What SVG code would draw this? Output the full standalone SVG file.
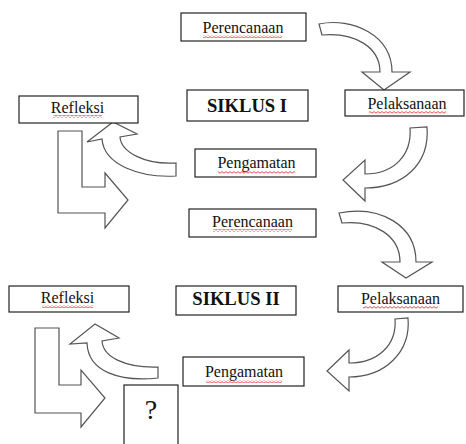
<svg xmlns="http://www.w3.org/2000/svg" width="466" height="444" viewBox="0 0 466 444">
<defs>
<pattern id="wavy" width="4" height="3" patternUnits="userSpaceOnUse">
<path d="M0,2.2 L2,0.6 L4,2.2" fill="none" stroke="#e02020" stroke-width="0.8"/>
</pattern>
<style>
.box{fill:#fff;stroke:#222;stroke-width:1.2}
.t{font-family:"Liberation Serif","Times New Roman",serif;font-size:16px;fill:#111;text-anchor:middle}
.b{font-weight:bold;font-size:18.6px}
.arr{fill:#fff;stroke:#555;stroke-width:1.2;stroke-linejoin:miter}
.w{fill:url(#wavy)}
</style>
</defs>
<rect width="466" height="444" fill="#fff"/>
<g id="connectors">
<path class="arr" d="M319,24 C352,17 392,35 392,72 L410,72 L384,90 L362,72 L380,72 C380,48 356,32 322,35 Z"/>
<path class="arr" d="M427,127 C430,165 402,188 365,188 L365,201 L343,180 L365,160 L365,174 C394,174 412,155 410,128 Z"/>
<path class="arr" d="M176,176 C140,178 104,165 102,139 L87,142 L113,122 L137,134 L120,137 C121,152 145,165 176,163 Z"/>
<path class="arr" d="M58,131 L82,131 L82,187 L105,187 L105,173 L128,200 L105,228 L105,213 L58,213 Z"/>
<path class="arr" d="M339,213 C380,205 416,225 416,262 L432,262 L406,278 L382,262 L400,262 C400,236 375,220 342,223 Z"/>
<path class="arr" d="M408,318 C411,352 385,377 349,377 L349,391 L327,371 L349,350 L349,363 C378,363 397,345 395,319 Z"/>
<path class="arr" d="M158,378 C120,382 88,372 87,343 L70,344 L95,324 L119,338 L102,341 C103,357 125,368 158,367 Z"/>
<path class="arr" d="M35,328 L59,328 L59,385 L81,385 L81,370 L105,398 L81,427 L81,413 L35,413 Z"/>
</g>
<g id="perencanaan1">
<rect class="box" x="181" y="13" width="125" height="28"/>
<text class="t" x="243" y="33">Perencanaan</text>
<rect class="w" x="203" y="35" width="79" height="3"/>
</g>
<g id="siklus1">
<rect class="box" x="187" y="90" width="121" height="31"/>
<text class="t b" x="247" y="112">SIKLUS I</text>
</g>
<g id="pelaksanaan1">
<rect class="box" x="345" y="90" width="119" height="26"/>
<text class="t" x="407" y="109">Pelaksanaan</text>
<rect class="w" x="369" y="111" width="77" height="3"/>
</g>
<g id="refleksi1">
<rect class="box" x="19" y="96" width="119" height="27"/>
<text class="t" x="77.5" y="113">Refleksi</text>
<rect class="w" x="53" y="115" width="49" height="3"/>
</g>
<g id="pengamatan1">
<rect class="box" x="195" y="149" width="121" height="28"/>
<text class="t" x="256.5" y="168">Pengamatan</text>
<rect class="w" x="218" y="171" width="77" height="3"/>
</g>
<g id="perencanaan2">
<rect class="box" x="189" y="209" width="127" height="28"/>
<text class="t" x="252.5" y="227">Perencanaan</text>
<rect class="w" x="213" y="229" width="79" height="3"/>
</g>
<g id="refleksi2">
<rect class="box" x="9" y="286" width="120" height="26"/>
<text class="t" x="67.5" y="303">Refleksi</text>
<rect class="w" x="42" y="305" width="51" height="3"/>
</g>
<g id="siklus2">
<rect class="box" x="176" y="286" width="120" height="29"/>
<text class="t b" x="236" y="305">SIKLUS II</text>
</g>
<g id="pelaksanaan2">
<rect class="box" x="338" y="286" width="125" height="26"/>
<text class="t" x="400.5" y="304">Pelaksanaan</text>
<rect class="w" x="363" y="306" width="75" height="3"/>
</g>
<g id="pengamatan2">
<rect class="box" x="183" y="357" width="121" height="29"/>
<text class="t" x="244" y="377">Pengamatan</text>
<rect class="w" x="206" y="380" width="76" height="3"/>
</g>
<g id="question">
<rect class="box" x="124" y="385" width="54" height="70"/>
<text class="t" x="151" y="419" style="font-size:28px">?</text>
</g>
</svg>
